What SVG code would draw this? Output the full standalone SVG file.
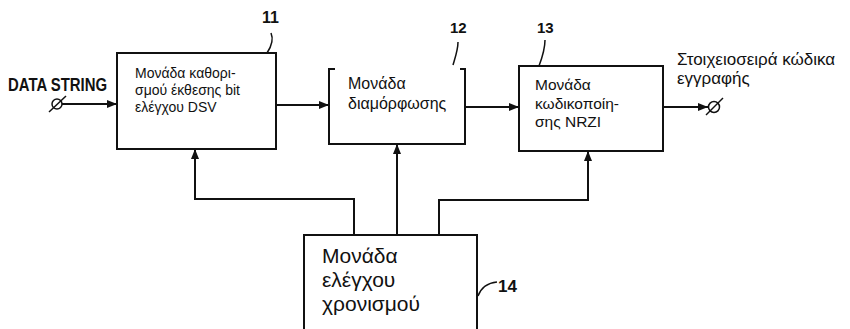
<svg xmlns="http://www.w3.org/2000/svg" width="850" height="329" viewBox="0 0 850 329">
<defs>
<marker id="ah" viewBox="0 0 10 8" refX="10" refY="4" markerWidth="10" markerHeight="8" markerUnits="userSpaceOnUse" orient="auto">
<path d="M0,0 L10,4 L0,8 Z" fill="#111"/>
</marker>
</defs>
<style>
.box{fill:#fff;stroke:#111;stroke-width:2}
.ln{fill:none;stroke:#111;stroke-width:2}
.thin{fill:none;stroke:#111;stroke-width:1.5}
.t{font-family:"Liberation Sans",Arial,sans-serif;fill:#111}
.num{font-family:"Liberation Sans",Arial,sans-serif;font-weight:bold;fill:#111}
</style>
<rect width="850" height="329" fill="#fff"/>

<g id="input">
<text class="t" x="8" y="91" font-size="19" textLength="99" lengthAdjust="spacingAndGlyphs" font-weight="bold">DATA STRING</text>
<circle class="thin" cx="57" cy="104" r="5"/>
<line class="thin" x1="49" y1="112" x2="66" y2="96"/>
</g>

<g id="node11">
<rect class="box" x="117" y="53" width="159" height="96"/>
<text class="t" font-size="14"><tspan x="135" y="78">Μονάδα καθορι-</tspan><tspan x="135" y="95">σμού έκθεσης bit</tspan><tspan x="135" y="112">ελέγχου DSV</tspan></text>
<text class="num" x="262" y="23" font-size="16">11</text>
<path class="thin" d="M271,33 C274,40 271,47 267,53"/>
</g>

<g id="node12">
<path class="box" d="M335,69 L329,69 L329,144 L465,144 L465,69 L460,69"/>
<text class="t" font-size="16"><tspan x="348" y="89">Μονάδα</tspan><tspan x="348" y="109">διαμόρφωσης</tspan></text>
<text class="num" x="450" y="33" font-size="15">12</text>
<path class="thin" d="M458,42 C458,50 455,58 453,65"/>
</g>

<g id="node13">
<rect class="box" x="519" y="66" width="144" height="85"/>
<text class="t" font-size="15.5"><tspan x="535" y="90">Μονάδα</tspan><tspan x="535" y="109">κωδικοποίη-</tspan><tspan x="535" y="127">σης NRZI</tspan></text>
<text class="num" x="537" y="33" font-size="15">13</text>
<path class="thin" d="M545,40 C545,50 542,58 539,66"/>
</g>

<g id="node14">
<rect class="box" x="304" y="235" width="173" height="110"/>
<text class="t" font-size="21"><tspan x="322" y="263">Μονάδα</tspan><tspan x="322" y="287">ελέγχου</tspan><tspan x="322" y="311">χρονισμού</tspan></text>
<text class="num" x="498" y="292" font-size="17">14</text>
<path class="thin" d="M478,296 C481,288 486,283 497,282"/>
</g>

<g id="output">
<text class="t" font-size="17"><tspan x="677" y="65">Στοιχειοσειρά κώδικα</tspan><tspan x="677" y="84">εγγραφής</tspan></text>
<circle class="thin" cx="714" cy="107" r="5.5"/>
<line class="thin" x1="706" y1="115" x2="723" y2="98"/>
</g>

<g id="connectors">
<line class="ln" x1="62" y1="104" x2="117" y2="104" marker-end="url(#ah)"/>
<line class="ln" x1="276" y1="105" x2="329" y2="105" marker-end="url(#ah)"/>
<line class="ln" x1="465" y1="107" x2="519" y2="107" marker-end="url(#ah)"/>
<line class="ln" x1="663" y1="107" x2="708" y2="107" marker-end="url(#ah)"/>
<path class="ln" d="M354,235 L354,199 L195,199 L195,149" marker-end="url(#ah)"/>
<line class="ln" x1="397" y1="235" x2="397" y2="144" marker-end="url(#ah)"/>
<path class="ln" d="M439,235 L439,200 L588,200 L588,151" marker-end="url(#ah)"/>
</g>
</svg>
